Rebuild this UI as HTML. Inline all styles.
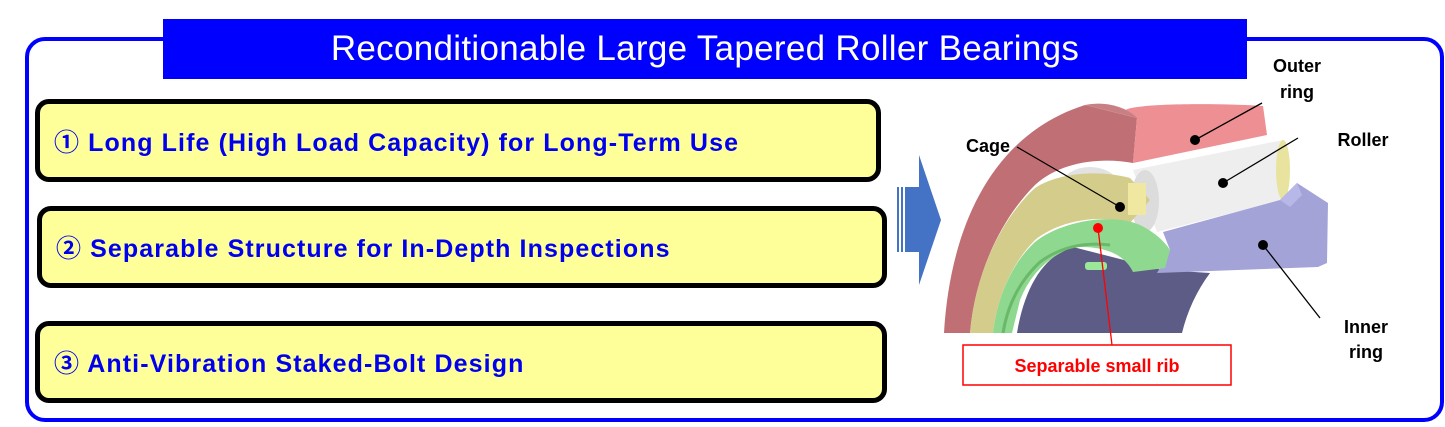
<!DOCTYPE html>
<html><head><meta charset="utf-8"><style>
body{margin:0;width:1445px;height:427px;background:#fff;position:relative;overflow:hidden;font-family:"Liberation Sans","Noto Sans CJK JP",sans-serif}
.frame{position:absolute;left:25px;top:37px;width:1411px;height:377px;border:4px solid #0000ff;border-radius:20px}
.title{position:absolute;left:163px;top:19px;width:1084px;height:60px;background:#0000ff;color:#fff;font-size:35px;letter-spacing:0.3px;line-height:60px;text-align:center;font-weight:normal}
.box{position:absolute;background:#ffff99;border:5px solid #000;border-radius:14px;box-sizing:border-box;color:#0000ee;font-weight:bold;font-size:25px;letter-spacing:1.1px;padding-left:14px;display:flex;align-items:center}
</style></head><body>
<div class="frame"></div>
<div class="title">Reconditionable Large Tapered Roller Bearings</div>
<div class="box" style="left:35px;top:99px;width:846px;height:83px">① Long Life (High Load Capacity) for Long-Term Use</div>
<div class="box" style="left:37px;top:206px;width:850px;height:82px">② Separable Structure for In-Depth Inspections</div>
<div class="box" style="left:35px;top:321px;width:852px;height:82px">③ Anti-Vibration Staked-Bolt Design</div>
<svg width="1445" height="427" style="position:absolute;left:0;top:0" font-family="Liberation Sans, sans-serif">
<g fill="#4472c4">
<rect x="897" y="187" width="2" height="65"/><rect x="901" y="187" width="2" height="65"/>
<rect x="905" y="187" width="16" height="65"/>
<polygon points="919,155 941,220 919,285"/>
</g>
<!-- inner bore -->
<path d="M1017,333 C1025,285 1045,255 1073,247 L1163,270 L1210,273 Q1190,300 1182,333 Z" fill="#5c5c86"/>
<!-- roller behind -->
<ellipse cx="1090" cy="185" rx="28" ry="18" fill="#e2e2e2"/>
<!-- outer ring side -->
<path d="M944,333 C950,230 990,135 1085,105 L1137,118 L1133,163 C1100,157 1060,162 1035,185 C1000,220 975,275 970,333 Z" fill="#c07075"/>
<!-- outer ring face -->
<path d="M1137,118 C1085,104 1200,102 1263,106 L1267,135 L1133,163 Z" fill="#ee8f94"/>
<path d="M1085,105 C1110,100 1130,110 1137,118 Z" fill="#c98085"/>
<!-- roller -->
<path d="M1133,170 L1283,140 L1283,200 L1157,232 Z" fill="#eeeeee"/>
<ellipse cx="1145" cy="201" rx="14" ry="31" fill="#dcdcdc"/>
<ellipse cx="1283" cy="170" rx="7" ry="30" fill="#e8e4a0"/>
<!-- cage -->
<path d="M970,333 C975,275 1000,220 1035,188 C1060,172 1100,170 1130,178 L1150,200 L1130,223 C1100,214 1060,220 1035,240 C1010,265 997,300 993,333 Z" fill="#d4cc8a"/>
<rect x="1128" y="183" width="18" height="32" fill="#f0e8a0"/>
<!-- inner ring -->
<polygon points="1163,232 1280,200 1297,183 1328,203 1327,263 1318,267 1157,273 1170,250" fill="#a3a3d8"/>
<polygon points="1280,200 1297,183 1302,195 1290,207" fill="#b8b8e8"/>
<!-- green rib -->
<path d="M993,333 C997,300 1010,265 1035,242 C1060,222 1110,212 1140,225 Q1160,235 1170,250 L1165,268 L1133,272 Q1120,245 1073,247 Q1035,262 1020,300 L1012,333 Z" fill="#8fd88f"/>
<path d="M1003,333 Q1010,290 1040,262 Q1070,240 1110,245" fill="none" stroke="#6ab86a" stroke-width="3"/>
<rect x="1085" y="262" width="22" height="8" rx="3" fill="#9be89b"/>
<!-- leader lines -->
<g stroke="#000" stroke-width="1.3" fill="none">
<line x1="1195" y1="140" x2="1262" y2="103"/>
<line x1="1223" y1="183" x2="1298" y2="138"/>
<line x1="1017" y1="147" x2="1120" y2="207"/>
<line x1="1263" y1="245" x2="1320" y2="318"/>
</g>
<g fill="#000"><circle cx="1195" cy="140" r="5"/><circle cx="1223" cy="183" r="5"/><circle cx="1120" cy="207" r="5"/><circle cx="1263" cy="245" r="5"/></g>
<line x1="1098" y1="228" x2="1112" y2="345" stroke="#ff0000" stroke-width="1.3"/>
<circle cx="1098" cy="228" r="5" fill="#ff0000"/>
<rect x="963" y="345" width="268" height="40" fill="#fff" stroke="#ff0000" stroke-width="1.5"/>
<text x="1097" y="372" fill="#ff0000" font-size="18" font-weight="bold" text-anchor="middle">Separable small rib</text>
<g font-size="18" font-weight="bold" fill="#000" text-anchor="middle">
<text x="1297" y="72">Outer</text><text x="1297" y="98">ring</text>
<text x="1363" y="146">Roller</text>
<text x="988" y="152">Cage</text>
<text x="1366" y="333">Inner</text><text x="1366" y="358">ring</text>
</g>
</svg>
</body></html>
